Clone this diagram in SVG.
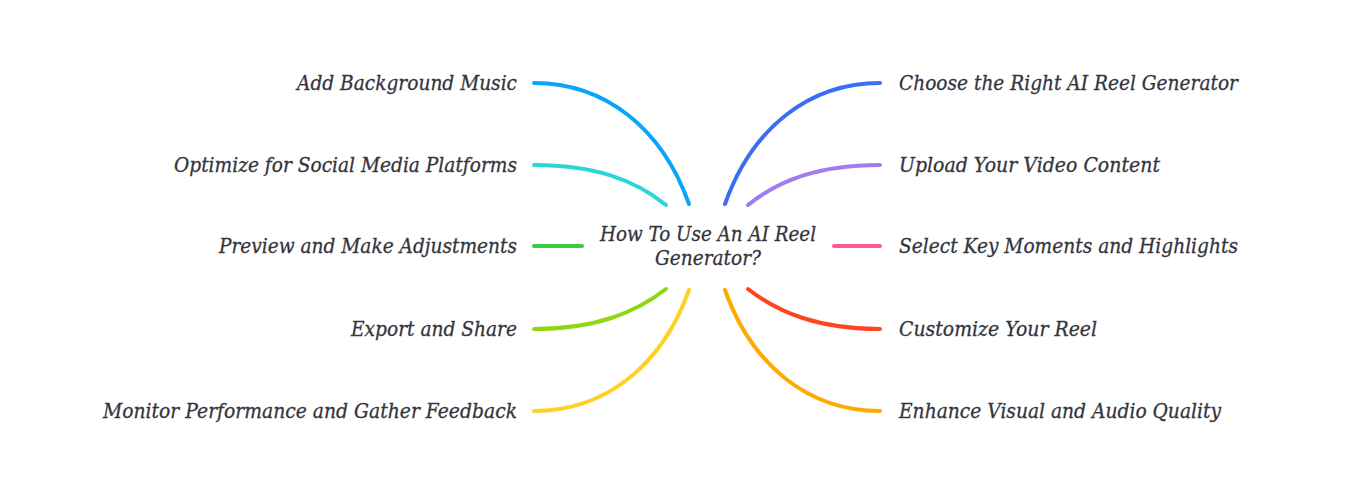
<svg xmlns="http://www.w3.org/2000/svg" width="1351" height="486" viewBox="0 0 1351 486">
<style>
.bg{fill:#ffffff}
.lbl{font-family:"DejaVu Serif","Liberation Serif",serif;font-style:italic;font-size:21px;fill:#34343c;stroke:#34343c;stroke-width:0.3}
.l{text-anchor:end}
.r{text-anchor:start}
.c{text-anchor:middle}
.ln{fill:none;stroke-width:4;stroke-linecap:round}
</style>
<rect class="bg" x="0" y="0" width="1351" height="486"/>
<g id="connectors">
<path class="ln" stroke="#0aa5fa" d="M534,83 C605,83 662,128 689,204"/>
<path class="ln" stroke="#2cd5d8" d="M534,165 C595,165 635,180 666,205"/>
<path class="ln" stroke="#3ccc40" d="M534,246 L582,246"/>
<path class="ln" stroke="#90d614" d="M534,329 C595,329 635,313 666,289"/>
<path class="ln" stroke="#ffd025" d="M534,411 C605,411 662,366 689,290"/>
<path class="ln" stroke="#3b6ef5" d="M880,83 C809,83 752,128 725,204"/>
<path class="ln" stroke="#a07cf0" d="M880,165 C819,165 779,180 748,205"/>
<path class="ln" stroke="#ff5a94" d="M834,246 L880,246"/>
<path class="ln" stroke="#ff4422" d="M880,329 C819,329 779,313 748,289"/>
<path class="ln" stroke="#ffaa00" d="M880,411 C809,411 752,366 725,290"/>
</g>
<g id="center">
<text class="lbl c" x="708" y="241" textLength="216" lengthAdjust="spacingAndGlyphs">How To Use An AI Reel</text>
<text class="lbl c" x="708" y="265" textLength="106" lengthAdjust="spacingAndGlyphs">Generator?</text>
</g>
<g id="n-add-music"><text class="lbl l" x="517" y="90" textLength="220" lengthAdjust="spacingAndGlyphs">Add Background Music</text></g>
<g id="n-optimize"><text class="lbl l" x="517" y="172" textLength="343" lengthAdjust="spacingAndGlyphs">Optimize for Social Media Platforms</text></g>
<g id="n-preview"><text class="lbl l" x="517" y="253" textLength="298" lengthAdjust="spacingAndGlyphs">Preview and Make Adjustments</text></g>
<g id="n-export"><text class="lbl l" x="517" y="336" textLength="166" lengthAdjust="spacingAndGlyphs">Export and Share</text></g>
<g id="n-monitor"><text class="lbl l" x="517" y="418" textLength="414" lengthAdjust="spacingAndGlyphs">Monitor Performance and Gather Feedback</text></g>
<g id="n-choose"><text class="lbl r" x="899" y="90" textLength="339" lengthAdjust="spacingAndGlyphs">Choose the Right AI Reel Generator</text></g>
<g id="n-upload"><text class="lbl r" x="899" y="172" textLength="261" lengthAdjust="spacingAndGlyphs">Upload Your Video Content</text></g>
<g id="n-select"><text class="lbl r" x="899" y="253" textLength="339" lengthAdjust="spacingAndGlyphs">Select Key Moments and Highlights</text></g>
<g id="n-customize"><text class="lbl r" x="899" y="336" textLength="198" lengthAdjust="spacingAndGlyphs">Customize Your Reel</text></g>
<g id="n-enhance"><text class="lbl r" x="899" y="418" textLength="322" lengthAdjust="spacingAndGlyphs">Enhance Visual and Audio Quality</text></g>
</svg>
